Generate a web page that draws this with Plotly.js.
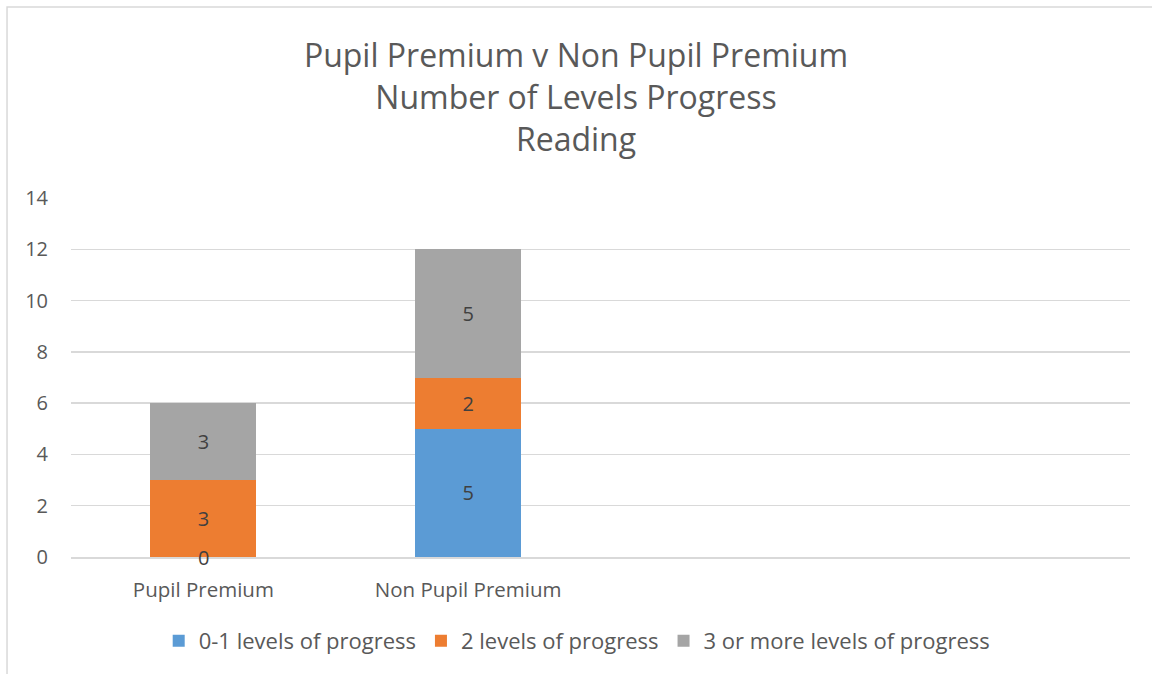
<!DOCTYPE html>
<html><head><meta charset="utf-8">
<script src="https://cdn.plot.ly/plotly-3.0.1.min.js"></script>
<style>html,body{margin:0;padding:0;background:#fff}#c{width:1152px;height:674px}</style>
</head><body><div id="c"></div>
<script>
const categories = ['Pupil Premium', 'Non Pupil Premium'];
const seriesNames = ['0-1 levels of progress', '2 levels of progress', '3 or more levels of progress'];
const levels01 = [0, 5];
const levels2 = [3, 2];
const levels3plus = [3, 5];
const yTicks = [0, 2, 4, 6, 8, 10, 12, 14];
const colors = ['#5b9bd5', '#ed7d31', '#a5a5a5'];
const FONT = 'Open Sans, Calibri, sans-serif';

const series = [levels01, levels2, levels3plus];
const traces = series.map((vals, i) => ({
  type: 'bar', x: categories, y: vals, name: seriesNames[i],
  marker: {color: colors[i]},
  text: vals.map(String), textposition: 'inside', insidetextanchor: 'middle',
  textfont: {family: FONT, size: 20, color: '#404040'},
  hoverinfo: 'none'
}));

// labels for zero-height segments (drawn at their position on the axis)
const annotations = [];
series.forEach((vals, i) => {
  vals.forEach((v, j) => {
    if (v === 0) {
      let base = 0; for (let k = 0; k < i; k++) base += series[k][j];
      annotations.push({x: categories[j], y: base, xref: 'x', yref: 'y', text: String(v),
        showarrow: false, font: {family: FONT, size: 20, color: '#404040'}, yanchor: 'middle'});
    }
  });
});

const layout = {
  width: 1152, height: 674,
  paper_bgcolor: '#fff', plot_bgcolor: '#fff',
  margin: {l: 71, r: 22, t: 198, b: 117},
  barmode: 'stack', bargap: 0.6,
  title: {text: 'Pupil Premium v Non Pupil Premium<br>Number of Levels Progress<br>Reading',
    font: {family: FONT, size: 32, color: '#595959'}, x: 0.5, xanchor: 'center', y: 0.9, yanchor: 'top'},
  xaxis: {range: [-0.5, 3.5], showgrid: false, showline: true, linecolor: '#d9d9d9', linewidth: 1.5,
    ticks: '', ticklabelstandoff: 14, tickfont: {family: FONT, size: 20.5, color: '#595959'}, fixedrange: true},
  yaxis: {range: [0, 14], tickvals: yTicks, showgrid: true, gridcolor: '#d9d9d9', gridwidth: 1.5,
    zeroline: false, showline: false, ticks: '', ticklabelstandoff: 22,
    tickfont: {family: FONT, size: 20, color: '#595959'}, fixedrange: true},
  legend: {orientation: 'h', x: 0.478, xanchor: 'center', y: -0.234, yanchor: 'middle',
    font: {family: FONT, size: 22, color: '#595959'}, traceorder: 'normal', itemwidth: 30},
  showlegend: true,
  annotations: annotations,
  shapes: [{type: 'rect', xref: 'paper', yref: 'paper', x0: -0.0604, x1: 1.05, y0: -0.5, y1: 1.532,
    line: {color: '#d9d9d9', width: 1.5}, fillcolor: 'rgba(0,0,0,0)', layer: 'below'}]
};
Plotly.newPlot('c', traces, layout, {displayModeBar: false, staticPlot: true});
</script></body></html>
